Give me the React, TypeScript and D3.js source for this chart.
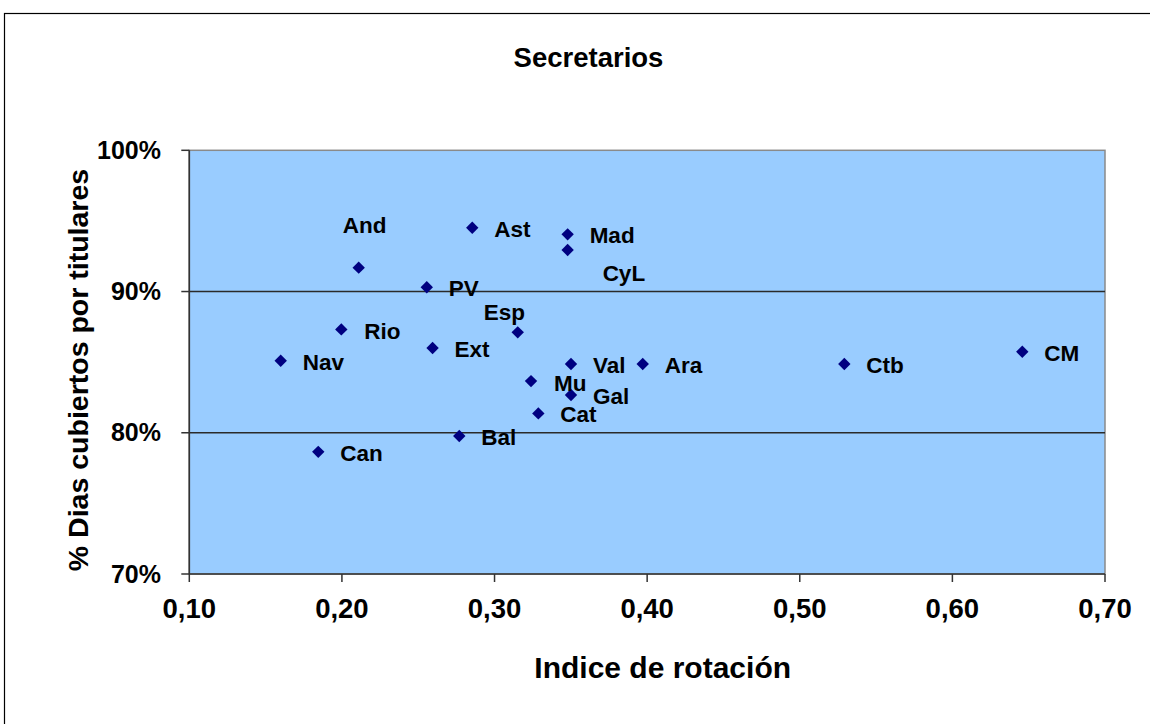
import React from "react";
import * as d3 from "d3";

// ---- Data ----
const regions = ["And", "Ast", "Mad", "CyL", "PV", "Esp", "Rio", "Ext", "Nav", "Val", "Ara", "Ctb", "CM", "Mu", "Gal", "Cat", "Bal", "Can"];
const rotationIndex = [0.211, 0.2854, 0.3479, 0.3479, 0.2556, 0.3152, 0.1996, 0.2594, 0.1599, 0.3501, 0.3971, 0.5292, 0.6458, 0.3239, 0.3501, 0.3287, 0.2769, 0.1845];
const coveredDays = [0.9169, 0.9452, 0.9405, 0.9294, 0.903, 0.8711, 0.8732, 0.86, 0.851, 0.8487, 0.8487, 0.8487, 0.8574, 0.8366, 0.8267, 0.8137, 0.7977, 0.7865];
const xTicks = [0.1, 0.2, 0.3, 0.4, 0.5, 0.6, 0.7];
const yTicks = [0.7, 0.8, 0.9, 1.0];
const chartTitle = "Secretarios";
const xTitle = "Indice de rotación";
const yTitle = "% Dias cubiertos por titulares";

// Label placement (layout only)
const defaultLabelOffset = { dx: 22, dy: 9 };
const labelOffsetOverrides: Record<string, { dx: number; dy: number }> = {
  And: { dx: -16, dy: -35 },
  CyL: { dx: 35, dy: 31 },
  Esp: { dx: -34, dy: -12 },
  Rio: { dx: 23, dy: 10 },
  Mu: { dx: 23, dy: 10 },
};

const W = 1150;
const H = 724;
const plot = { left: 189.3, right: 1105, top: 150.3, bottom: 574 };
const FONT = "'Liberation Sans', Arial, Helvetica, sans-serif";

export default function App() {
  const x = d3.scaleLinear().domain([0.1, 0.7]).range([plot.left, plot.right]);
  const y = d3.scaleLinear().domain([0.7, 1.0]).range([plot.bottom, plot.top]);
  const fmtX = (v: number) => d3.format(".2f")(v).replace(".", ",");
  const fmtY = (v: number) => d3.format(".0%")(v);
  const diamond = d3.symbol().type(d3.symbolDiamond2 ?? d3.symbolDiamond).size(98)();
  const points = regions.map((name, i) => ({ name, xv: rotationIndex[i], yv: coveredDays[i] }));

  return (
    <div style={{ position: "absolute", left: 0, top: 0 }}>
      <svg width={W} height={H} style={{ display: "block", background: "#ffffff" }} fontFamily={FONT}>
        <rect x={0} y={0} width={W} height={H} fill="#ffffff" />
        {/* outer chart frame */}
        <rect x={4.5} y={13.5} width={W + 50} height={H + 50} fill="none" stroke="#000" strokeWidth={1.2} />
        {/* plot area */}
        <rect x={plot.left} y={plot.top} width={plot.right - plot.left} height={plot.bottom - plot.top} fill="#99CCFF" stroke="#8a8a8a" strokeWidth={1.5} />
        {/* gridlines */}
        {yTicks.filter((t) => t > 0.7 && t < 1.0).map((t) => (
          <line key={"g" + t} x1={plot.left} x2={plot.right} y1={y(t)} y2={y(t)} stroke="#2a2a2a" strokeWidth={1.5} />
        ))}
        {/* axes */}
        <line x1={plot.left} x2={plot.left} y1={plot.top} y2={plot.bottom} stroke="#333" strokeWidth={1.6} />
        <line x1={plot.left} x2={plot.right} y1={plot.bottom} y2={plot.bottom} stroke="#333" strokeWidth={1.6} />
        {yTicks.map((t) => (
          <g key={"y" + t}>
            <line x1={plot.left - 8} x2={plot.left} y1={y(t)} y2={y(t)} stroke="#333" strokeWidth={1.5} />
            <text x={161} y={y(t) + 8.5} textAnchor="end" fontSize={25} fontWeight="bold" fill="#000">
              {fmtY(t)}
            </text>
          </g>
        ))}
        {xTicks.map((t) => (
          <g key={"x" + t}>
            <line x1={x(t)} x2={x(t)} y1={plot.bottom} y2={plot.bottom + 8} stroke="#333" strokeWidth={1.5} />
            <text x={x(t)} y={618} textAnchor="middle" fontSize={27.5} fontWeight="bold" fill="#000">
              {fmtX(t)}
            </text>
          </g>
        ))}
        {/* points */}
        {points.map((p) => (
          <path key={"p" + p.name} d={diamond} transform={`translate(${x(p.xv)},${y(p.yv)})`} fill="#000080" />
        ))}
        {/* labels */}
        {points.map((p) => {
          const o = labelOffsetOverrides[p.name] ?? defaultLabelOffset;
          return (
            <text key={"l" + p.name} x={x(p.xv) + o.dx} y={y(p.yv) + o.dy} fontSize={22.5} fontWeight="bold" fill="#000">
              {p.name}
            </text>
          );
        })}
        {/* titles */}
        <text x={588.5} y={66.5} textAnchor="middle" fontSize={27.5} fontWeight="bold" fill="#000">
          {chartTitle}
        </text>
        <text x={662.7} y={678} textAnchor="middle" fontSize={30} fontWeight="bold" fill="#000">
          {xTitle}
        </text>
        <text transform="translate(88,370) rotate(-90)" textAnchor="middle" fontSize={28.5} fontWeight="bold" fill="#000">
          {yTitle}
        </text>
      </svg>
    </div>
  );
}
